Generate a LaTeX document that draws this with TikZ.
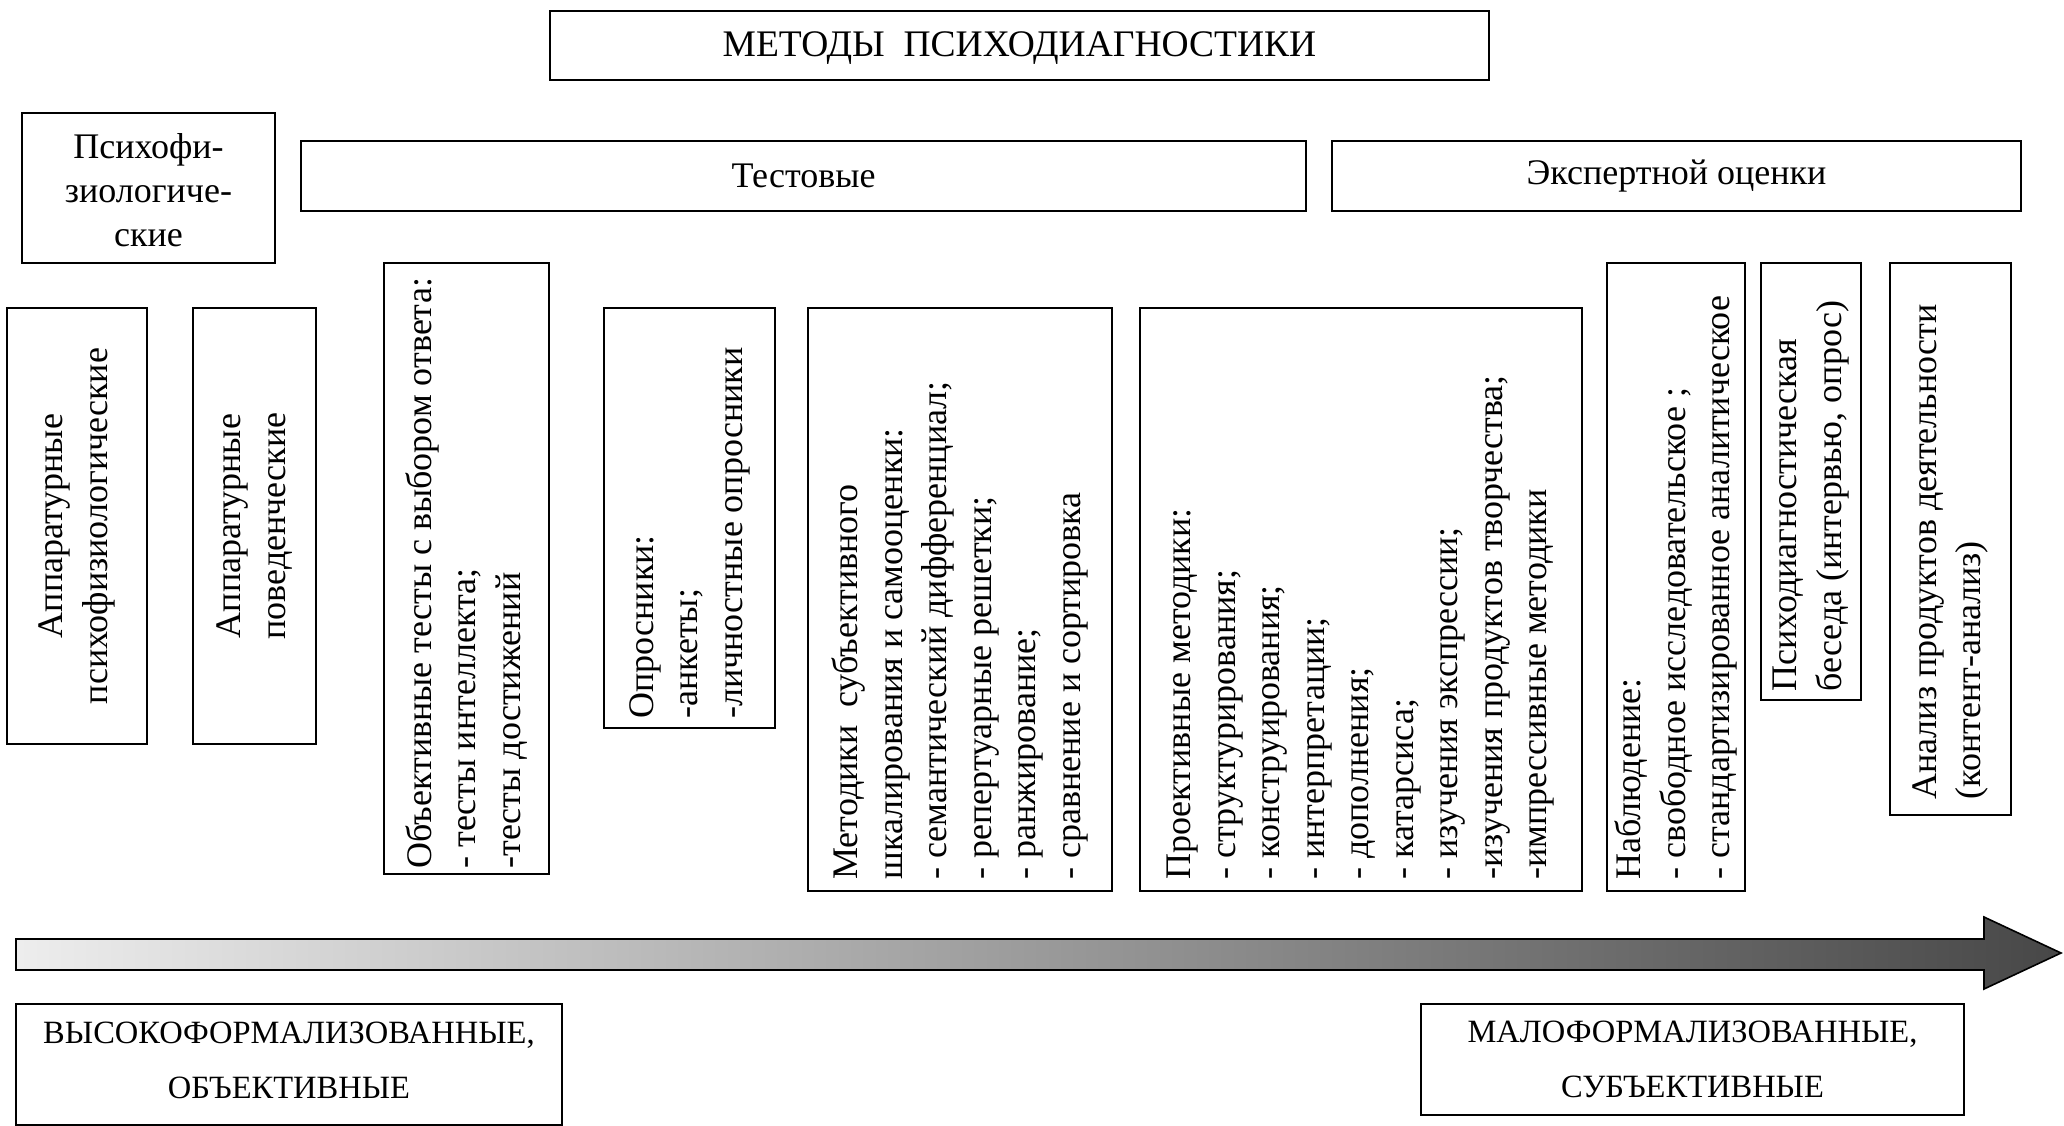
\documentclass[tikz,border=0pt]{standalone}
\usepackage{fontspec}
\setmainfont{Liberation Serif}
\begin{document}
\begin{tikzpicture}[x=1pt,y=-1pt,
  box/.style={draw, line width=1.6pt, inner sep=0pt},
  htext/.style={font=\fontsize{36}{44}\selectfont, align=center, inner sep=0pt},
  vtext/.style={font=\fontsize{36}{44.5}\selectfont, rotate=90, align=left, inner sep=0pt},
  vctext/.style={font=\fontsize{36}{44.5}\selectfont, rotate=90, align=center, inner sep=0pt},
  btext/.style={font=\fontsize{32.5}{55}\selectfont, align=center, inner sep=0pt}]
\useasboundingbox (0,0) rectangle (2064,1126);
% top row
\node[box, minimum width=939pt, minimum height=69pt] (title) at (1019.5,45.5) {};
\node[htext, font=\fontsize{37.5}{44}\selectfont] (titlet) at ([yshift=-3pt]title.center) {МЕТОДЫ\ \ ПСИХОДИАГНОСТИКИ};
\node[box, minimum width=253pt, minimum height=150pt] (psy) at (148.5,188) {};
\node[htext] (psyt) at ([yshift=-2pt]psy.center) {Психофи-\\зиологиче-\\ские};
\node[box, minimum width=1005pt, minimum height=70pt] (test) at (803.5,176) {};
\node[htext] (testt) at (test.center) {Тестовые};
\node[box, minimum width=689pt, minimum height=70pt] (exp) at (1676.5,176) {};
\node[htext] (expt) at (exp.center) {Экспертной оценки};
% vertical boxes
\node[box, minimum width=140pt, minimum height=436pt] (app1) at (77,526) {};
\node[vctext] (app1t) at (app1.center) {Аппаратурные\\психофизиологические};
\node[box, minimum width=123pt, minimum height=436pt] (app2) at (254.5,526) {};
\node[vctext] (app2t) at (app2.center) {Аппаратурные\\поведенческие};
\node[box, minimum width=165pt, minimum height=611pt] (obj) at (466.5,568.5) {};
\node[vtext, anchor=west] (objt) at ([yshift=6pt]obj.south) {Объективные тесты с выбором ответа:\\- тесты интеллекта;\\-тесты достижений};
\node[box, minimum width=171pt, minimum height=420pt] (opr) at (689.5,518) {};
\node[vtext, anchor=west] (oprt) at ([yshift=10pt]opr.south) {Опросники:\\-анкеты;\\-личностные опросники};
\node[box, minimum width=304pt, minimum height=583pt] (met) at (960,599.5) {};
\node[vtext, anchor=west] (mett) at ([yshift=12pt]met.south) {Методики\ \ субъективного\\шкалирования и самооценки:\\- семантический дифференциал;\\- репертуарные решетки;\\- ранжирование;\\- сравнение и сортировка};
\node[box, minimum width=442pt, minimum height=583pt] (proj) at (1361,599.5) {};
\node[vtext, anchor=west] (projt) at ([yshift=12pt]proj.south) {Проективные методики:\\- структурирования;\\- конструирования;\\- интерпретации;\\- дополнения;\\- катарсиса;\\- изучения экспрессии;\\-изучения продуктов творчества;\\-импрессивные методики};
\node[box, minimum width=138pt, minimum height=628pt] (nabl) at (1676,577) {};
\node[vtext, anchor=west] (nablt) at ([yshift=12pt]nabl.south) {Наблюдение:\\- свободное исследовательское ;\\- стандартизированное аналитическое};
\node[box, minimum width=100pt, minimum height=437pt] (bes) at (1811,481.5) {};
\node[vtext, anchor=west] (best) at ([yshift=9pt]bes.south) {Психодиагностическая\\беседа (интервью, опрос)};
\node[box, minimum width=121pt, minimum height=552pt] (anl) at (1950.5,539) {};
\node[vtext, anchor=west] (anlt) at ([yshift=16pt]anl.south) {Анализ продуктов деятельности\\(контент-анализ)};
% arrow
\draw[line width=1.6pt, left color=black!7, right color=black!72]
  (16,939) -- (1984,939) -- (1984,917) -- (2061,953) -- (1984,989) -- (1984,970) -- (16,970) -- cycle;
% bottom labels
\node[box, minimum width=546pt, minimum height=121pt] (hi) at (289,1064.5) {};
\node[btext] (hit) at ([yshift=4pt]hi.center) {ВЫСОКОФОРМАЛИЗОВАННЫЕ,\\ОБЪЕКТИВНЫЕ};
\node[box, minimum width=543pt, minimum height=111pt] (lo) at (1692.5,1059.5) {};
\node[btext] (lot) at (lo.center) {МАЛОФОРМАЛИЗОВАННЫЕ,\\СУБЪЕКТИВНЫЕ};
\end{tikzpicture}
\end{document}
